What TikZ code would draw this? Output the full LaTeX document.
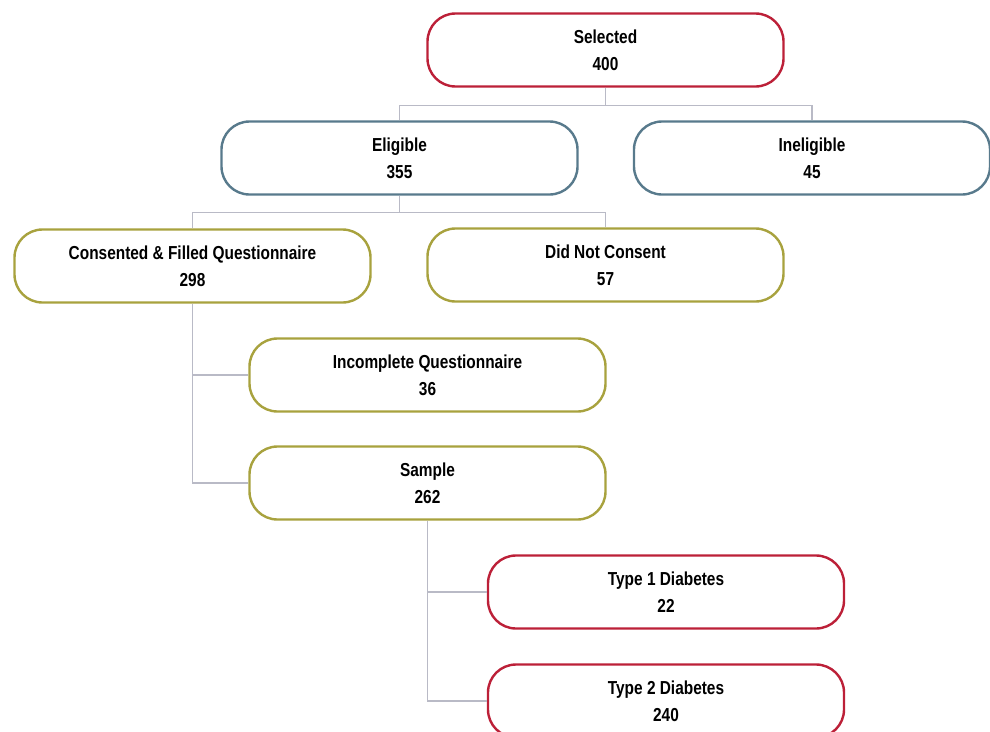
\documentclass[tikz,border=0pt]{standalone}
\usepackage{fontspec}
\setmainfont{Liberation Sans}[FakeStretch=0.82]
\definecolor{bred}{RGB}{188,32,56}
\definecolor{bblue}{RGB}{88,122,140}
\definecolor{bolive}{RGB}{168,162,62}
\definecolor{conngray}{RGB}{185,186,198}
\tikzset{
  flowbox/.style={draw, line width=2.4pt, rounded corners=28pt, fill=white,
    minimum width=356pt, minimum height=73pt, align=center,
    font=\fontsize{18.8}{26.7}\selectfont\bfseries, text=black,
    execute at begin node={\rule{0pt}{22pt}}},
  redbox/.style={flowbox, draw=bred},
  bluebox/.style={flowbox, draw=bblue},
  olivebox/.style={flowbox, draw=bolive},
  conn/.style={draw=conngray, line width=1.4pt}
}
\begin{document}
\begin{tikzpicture}[x=1pt,y=-1pt]
\useasboundingbox (0,0) rectangle (990,731);
\clip (0,0) rectangle (990,731);
\node[redbox] (sel) at (605.5,50) {Selected\\400};
\node[bluebox] (eli) at (399.5,158) {Eligible\\355};
\node[bluebox] (inel) at (812,158) {Ineligible\\45};
\node[olivebox] (cons) at (192.5,266) {Consented \& Filled Questionnaire\\298};
\node[olivebox] (dnc) at (605.5,265) {Did Not Consent\\57};
\node[olivebox] (inc) at (427.5,375) {Incomplete Questionnaire\\36};
\node[olivebox] (samp) at (427.5,483) {Sample\\262};
\node[redbox] (t1) at (666,592) {Type 1 Diabetes\\22};
\node[redbox] (t2) at (666,701) {Type 2 Diabetes\\240};
\draw[conn] (sel.south) -- ++(0,18) coordinate (j1);
\draw[conn] (eli.north) |- (j1) -| (inel.north);
\draw[conn] (eli.south) -- ++(0,17) coordinate (j2);
\draw[conn] (cons.north) |- (j2) -| (dnc.north);
\draw[conn] (cons.south) |- (inc.west);
\draw[conn] (cons.south) |- (samp.west);
\draw[conn] (samp.south) |- (t1.west);
\draw[conn] (samp.south) |- (t2.west);
\end{tikzpicture}
\end{document}
